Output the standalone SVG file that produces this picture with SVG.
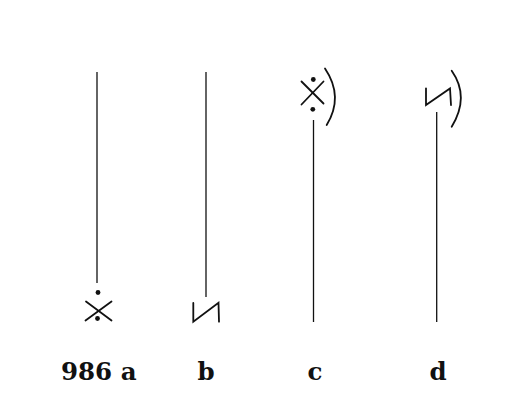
<svg xmlns="http://www.w3.org/2000/svg" width="518" height="420" viewBox="0 0 518 420">
<style>
.ln{stroke:#111;stroke-width:1.3;fill:none}
.sym{stroke:#111;stroke-width:1.8;fill:none;stroke-linecap:round}
.dot{fill:#111}
.lab{font-family:"DejaVu Serif",serif;font-weight:bold;font-size:24.5px;fill:#111}
</style>
<rect width="518" height="420" fill="#fff"/>
<g id="connectors">
<line class="ln" x1="97" y1="72" x2="97" y2="283"/>
<line class="ln" x1="206" y1="72" x2="206" y2="297"/>
<line class="ln" x1="313.5" y1="120" x2="313.5" y2="322"/>
<line class="ln" x1="436.7" y1="112" x2="436.7" y2="322"/>
</g>
<g id="node-a">
<line class="sym" x1="86" y1="301.5" x2="111.5" y2="320.5"/>
<line class="sym" x1="111.5" y1="301.5" x2="85.5" y2="320.5"/>
<circle class="dot" cx="98" cy="292.5" r="2.4"/>
<circle class="dot" cx="97.5" cy="318.5" r="2.4"/>
<text class="lab" x="61" y="380">986 a</text>
</g>
<g id="node-b">
<polyline class="sym" points="193.3,303 193.3,321.7 218.5,302.7 219,321.7"/>
<text class="lab" x="206" y="380" text-anchor="middle">b</text>
</g>
<g id="node-c">
<line class="sym" x1="301.5" y1="81.5" x2="323.5" y2="103.5"/>
<line class="sym" x1="323.5" y1="81.5" x2="301.5" y2="104.5"/>
<circle class="dot" cx="313.3" cy="79.5" r="2.4"/>
<circle class="dot" cx="312.8" cy="109.3" r="2.4"/>
<path class="sym" d="M325,68.5 Q344,96.7 326.7,125"/>
<text class="lab" x="315" y="380" text-anchor="middle">c</text>
</g>
<g id="node-d">
<polyline class="sym" points="426,88.3 426,105 450,88.5 451,105"/>
<path class="sym" d="M451.7,70.7 Q470,96.7 451.7,126.7"/>
<text class="lab" x="438" y="380" text-anchor="middle">d</text>
</g>
</svg>
